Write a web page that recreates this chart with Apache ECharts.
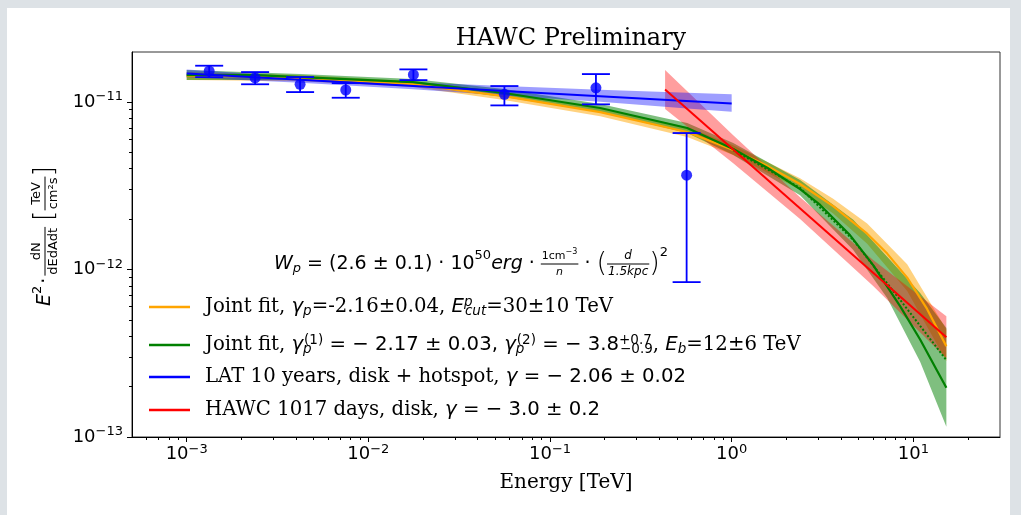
<!DOCTYPE html>
<html><head><meta charset="utf-8">
<script src="https://cdn.jsdelivr.net/npm/echarts@6/dist/echarts.min.js"></script>
<style>html,body{margin:0;padding:0;background:#fff}#c{width:1021px;height:515px}</style>
</head><body><div id="c"></div>
<script>
// ---------- data ----------
const xMin = 5e-4, xMax = 30, yMin = 1e-13, yMax = 1.99e-11;
const xMajor = [1e-3, 1e-2, 1e-1, 1, 10];
const yMajor = [1e-13, 1e-12, 1e-11];

// Fermi-LAT points
const latE  = [1.33e-3, 2.38e-3, 4.21e-3, 7.51e-3, 1.77e-2, 5.61e-2, 0.179, 0.565];
const latF  = [1.531e-11, 1.396e-11, 1.277e-11, 1.180e-11, 1.456e-11, 1.112e-11, 1.217e-11, 3.66e-12];
const latHi = [1.648e-11, 1.510e-11, 1.410e-11, 1.297e-11, 1.567e-11, 1.246e-11, 1.469e-11, 6.53e-12];
const latLo = [1.409e-11, 1.277e-11, 1.147e-11, 1.061e-11, 1.352e-11, 9.55e-12, 9.69e-12, 8.41e-13];

// LAT power-law fit
const latFitE = [1e-3, 1.0];
const latFitF = [1.483e-11, 9.79e-12];
const latBandE  = [1e-3, 4.21e-3, 1.76e-2, 5.58e-2, 0.189, 0.569, 1.0];
const latBandHi = [1.567e-11, 1.418e-11, 1.312e-11, 1.247e-11, 1.183e-11, 1.137e-11, 1.112e-11];
const latBandLo = [1.403e-11, 1.306e-11, 1.191e-11, 1.096e-11, 1.003e-11, 9.16e-12, 8.75e-12];

// HAWC power-law fit
const hawcE = [0.43, 15.2];
const hawcF = [1.19e-11, 3.94e-13];
const hawcBandE  = [0.43, 1.02, 2.38, 6.01, 15.2];
const hawcBandHi = [1.556e-11, 6.33e-12, 2.70e-12, 1.14e-12, 5.26e-13];
const hawcBandLo = [9.10e-12, 4.31e-12, 2.00e-12, 7.98e-13, 2.95e-13];

// Joint fit, exponential cutoff (orange)
const ecplE = [1.0e-3, 2.38e-3, 4.21e-3, 7.45e-3, 1.76e-2, 5.58e-2, 0.189, 0.569, 1.02, 1.57, 2.38, 3.62, 5.57, 7.18, 9.25, 11.9, 15.2];
const ecplF = [1.429e-11, 1.429e-11, 1.390e-11, 1.352e-11, 1.280e-11, 1.086e-11, 8.71e-12, 6.62e-12, 5.17e-12, 4.16e-12, 3.24e-12, 2.39e-12, 1.637e-12, 1.245e-12, 8.95e-13, 5.82e-13, 3.48e-13];
const ecplBandE  = [1.0e-3, 4.21e-3, 1.76e-2, 5.58e-2, 0.189, 0.569, 1.02, 2.38, 3.62, 5.57, 9.25, 15.2];
const ecplBandHi = [1.510e-11, 1.449e-11, 1.333e-11, 1.147e-11, 9.21e-12, 7.10e-12, 5.53e-12, 3.51e-12, 2.65e-12, 1.88e-12, 1.076e-12, 4.39e-13];
const ecplBandLo = [1.352e-11, 1.333e-11, 1.230e-11, 1.028e-11, 8.24e-12, 6.18e-12, 4.83e-12, 2.99e-12, 2.16e-12, 1.426e-12, 7.45e-13, 2.83e-13];

// Joint fit, broken power law (green)
const bplE = [1.0e-3, 2.38e-3, 4.21e-3, 7.45e-3, 1.76e-2, 5.58e-2, 0.189, 0.569, 1.02, 1.57, 2.38, 3.07, 4.49, 6.01, 8.47, 10.9, 15.2];
const bplF = [1.449e-11, 1.449e-11, 1.409e-11, 1.371e-11, 1.315e-11, 1.132e-11, 9.21e-12, 7.00e-12, 5.24e-12, 4.05e-12, 3.02e-12, 2.43e-12, 1.60e-12, 1.062e-12, 6.03e-13, 3.82e-13, 1.97e-13];
const bplBandE  = [1.0e-3, 4.21e-3, 1.76e-2, 5.58e-2, 0.189, 0.569, 1.02, 2.38, 4.67, 7.18, 10.9, 15.2];
const bplBandHi = [1.553e-11, 1.469e-11, 1.371e-11, 1.197e-11, 9.73e-12, 7.50e-12, 5.69e-12, 3.42e-12, 1.98e-12, 1.19e-12, 7.24e-13, 4.48e-13];
const bplBandLo = [1.352e-11, 1.352e-11, 1.264e-11, 1.072e-11, 8.71e-12, 6.53e-12, 4.83e-12, 2.78e-12, 1.31e-12, 6.76e-13, 2.81e-13, 1.15e-13];
const bplDotE = [1.02, 2.38, 4.67, 8.47, 15.2];
const bplDotF = [5.17e-12, 3.07e-12, 1.50e-12, 6.58e-13, 2.88e-13];

// ---------- helpers ----------
function minorTicks(k0, k1, lo, hi) {
  const r = [];
  for (let k = k0; k <= k1; k++) for (let m = 2; m <= 9; m++) {
    const v = m * Math.pow(10, k);
    if (v > lo && v < hi) r.push(v);
  }
  return r;
}
const xMinor = minorTicks(-4, 1, xMin, xMax);
const yMinor = minorTicks(-14, -11, yMin, yMax);
const pow10 = v => { const e = Math.round(Math.log10(v)); return '{b|10}{s|' + (e < 0 ? '\u2212' + (-e) : e) + '}'; };
const tickRich = {
  b: { fontFamily: 'DejaVu Sans', fontSize: 18, color: '#000' },
  s: { fontFamily: 'DejaVu Sans', fontSize: 13, color: '#000', padding: [0, 0, 10, 0] }
};
const pairs = (E, F) => E.map((e, i) => [e, F[i]]);

function bandSeries(name, E, lo, hi, color) {
  return {
    type: 'custom', name, silent: true, clip: true, z: 2,
    data: E.map((e, i) => [e, lo[i], hi[i]]),
    encode: { x: 0, y: [1, 2] },
    renderItem(params, api) {
      if (params.dataIndex !== 0) return null;
      const pts = [];
      for (let i = 0; i < E.length; i++) pts.push(api.coord([E[i], hi[i]]));
      for (let i = E.length - 1; i >= 0; i--) pts.push(api.coord([E[i], lo[i]]));
      return { type: 'polygon', shape: { points: pts }, style: { fill: color } };
    }
  };
}
function lineSeries(name, E, F, color, width, type) {
  return {
    type: 'line', name, data: pairs(E, F), symbol: 'none', showSymbol: false, silent: true, z: 3,
    color, lineStyle: { color, width, type: type || 'solid' }
  };
}

// text measurement for composed math labels
const ctx = document.createElement('canvas').getContext('2d');
function tw(t, f) { ctx.font = f; return ctx.measureText(t).width; }
function compose(parts, x0, y0, out) {
  let x = x0;
  for (const p of parts) {
    if (p.frac) {
      const wn = compose(p.frac.num, 0, 0, []), wd = compose(p.frac.den, 0, 0, []);
      const w = Math.max(wn, wd) + 2;
      compose(p.frac.num, x + (w - wn) / 2, y0 + p.frac.ny, out);
      compose(p.frac.den, x + (w - wd) / 2, y0 + p.frac.dy, out);
      out.push({ type: 'line', shape: { x1: x, y1: y0 + p.frac.by, x2: x + w, y2: y0 + p.frac.by }, style: { stroke: '#000', lineWidth: 1 } });
      x += w;
    } else if (p.gap) {
      x += p.gap;
    } else {
      out.push({ type: 'text', x: x, y: y0 + (p.dy || 0), style: { text: p.t, font: p.f, fill: '#000', align: 'left', verticalAlign: 'middle' } });
      x += tw(p.t, p.f);
    }
  }
  return x - x0;
}
const SANS = '"DejaVu Sans"';
const f = (sz, it) => (it ? 'italic ' : '') + sz + 'px ' + SANS;

// formula W_p
const formulaParts = [
  { t: 'W', f: f(19, 1) }, { t: 'p', f: f(13, 1), dy: 5 },
  { t: ' = (2.6 \u00b1 0.1) \u00b7 10', f: f(19) }, { t: '50', f: f(13), dy: -8 },
  { t: 'erg', f: f(19, 1) }, { t: ' \u00b7 ', f: f(19) },
  { frac: { num: [{ t: '1cm', f: f(11) }, { t: '\u22123', f: f(8), dy: -4 }], den: [{ t: 'n', f: f(11, 1) }], ny: -8, dy: 8, by: 0 } },
  { t: ' \u00b7 ', f: f(19) }, { t: '(', f: '200 27px ' + SANS },
  { frac: { num: [{ t: 'd', f: f(12, 1) }], den: [{ t: '1.5kpc', f: f(12, 1) }], ny: -8, dy: 8, by: 0 } },
  { t: ')', f: '200 27px ' + SANS }, { t: '2', f: f(13), dy: -11 }
];
const formulaEls = [];
compose(formulaParts, 0, 0, formulaEls);

// y axis label
const ylabParts = [
  { t: 'E', f: f(19, 1) }, { t: '2', f: f(13), dy: -7 }, { gap: 2 }, { t: '\u00b7', f: f(19) }, { gap: 2 },
  { frac: { num: [{ t: 'dN', f: f(13) }], den: [{ t: 'dEdAdt', f: f(13) }], ny: -8, dy: 9, by: 0 } },
  { gap: 6 }, { t: '[', f: '200 27px ' + SANS },
  { frac: { num: [{ t: 'TeV', f: f(13) }], den: [{ t: 'cm\u00b2s', f: f(13) }], ny: -8, dy: 9, by: 0 } },
  { t: ']', f: '200 27px ' + SANS }
];
const ylabEls = [];
const ylabW = compose(ylabParts, 0, 0, ylabEls);

// legend rich text
const legRich = {
  g: { width: 10 },
  t: { fontFamily: 'DejaVu Serif', fontSize: 19.7, color: '#000' },
  m: { fontFamily: 'DejaVu Sans', fontStyle: 'italic', fontSize: 19.7, color: '#000' },
  n: { fontFamily: 'DejaVu Sans', fontSize: 19.7, color: '#000' },
  sbi: { fontFamily: 'DejaVu Sans', fontStyle: 'italic', fontSize: 13.5, color: '#000', padding: [8, 0, 0, 0] },
  sbn: { fontFamily: 'DejaVu Sans', fontSize: 13.5, color: '#000', padding: [8, 0, 0, 0] },
  sbi0: { fontFamily: 'DejaVu Sans', fontStyle: 'italic', fontSize: 13.5, color: '#000', padding: [8, 0, 0, 0], width: 1 },
  spi: { fontFamily: 'DejaVu Sans', fontStyle: 'italic', fontSize: 13.5, color: '#000', padding: [0, 0, 10, 0] },
  spi0: { fontFamily: 'DejaVu Sans', fontStyle: 'italic', fontSize: 13.5, color: '#000', padding: [0, 0, 10, 0], width: 1 },
  spn: { fontFamily: 'DejaVu Sans', fontSize: 13.5, color: '#000', padding: [0, 0, 10, 0] },
  spn0: { fontFamily: 'DejaVu Sans', fontSize: 13.5, color: '#000', padding: [0, 0, 10, 0], width: 1 }
};
const legendText = {
  ecpl: '{g| }{t|Joint fit, }{m|\u03b3}{sbi|p}{t|=-2.16\u00b10.04, }{m|E}{spi0|p}{sbi|cut}{t|=30\u00b110 TeV}',
  bpl: '{g| }{t|Joint fit, }{m|\u03b3}{sbi0|p}{spn|(1)}{n| = \u2212 2.17 \u00b1 0.03, }{m|\u03b3}{sbi0|p}{spn|(2)}{n| = \u2212 3.8}{spn0|+0.7}{sbn|\u22120.9}{t|, }{m|E}{sbi|b}{t|=12\u00b16 TeV}',
  lat: '{g| }{t|LAT 10 years, disk + hotspot, }{m|\u03b3}{n| = \u2212 2.06 \u00b1 0.02}',
  hawc: '{g| }{t|HAWC 1017 days, disk, }{m|\u03b3}{n| = \u2212 3.0 \u00b1 0.2}'
};
const legendTops = { ecpl: 295, bpl: 333, lat: 367, hawc: 400 };
const legends = Object.keys(legendText).map(k => ({
  data: [k], left: 149, top: legendTops[k], orient: 'vertical', padding: 0,
  icon: 'rect', itemWidth: 41, itemHeight: 2.5, selectedMode: false,
  formatter: () => legendText[k],
  textStyle: { rich: legRich }
}));

const gray = '#dde2e6';
const option = {
  animation: false,
  backgroundColor: '#ffffff',
  title: {
    text: 'HAWC Preliminary', left: 566, top: 22, textAlign: 'center',
    textStyle: { fontFamily: 'DejaVu Serif', fontSize: 24, fontWeight: 'normal', color: '#000' }
  },
  legend: legends,
  grid: { left: 132, right: 21, top: 52, bottom: 78, show: true, borderColor: '#333', borderWidth: 1, backgroundColor: 'transparent' },
  xAxis: [
    {
      type: 'log', logBase: 10, min: xMin, max: xMax, position: 'bottom',
      axisLine: { show: true, onZero: false, lineStyle: { color: '#000', width: 1 } },
      axisTick: { show: true, customValues: xMajor, length: 5, lineStyle: { color: '#000', width: 1 } },
      axisLabel: { customValues: xMajor, formatter: pow10, rich: tickRich, margin: 6 },
      splitLine: { show: false },
      name: 'Energy [TeV]', nameLocation: 'middle', nameGap: 36,
      nameTextStyle: { fontFamily: 'DejaVu Serif', fontSize: 20, color: '#000' }
    },
    {
      type: 'log', logBase: 10, min: xMin, max: xMax, position: 'bottom',
      axisLine: { show: false },
      axisTick: { show: true, customValues: xMinor, length: 3, lineStyle: { color: '#000', width: 1 } },
      axisLabel: { show: false }, splitLine: { show: false }
    }
  ],
  yAxis: [
    {
      type: 'log', logBase: 10, min: yMin, max: yMax, position: 'left',
      axisLine: { show: true, onZero: false, lineStyle: { color: '#000', width: 1 } },
      axisTick: { show: true, customValues: yMajor, length: 5, lineStyle: { color: '#000', width: 1 } },
      axisLabel: { customValues: yMajor, formatter: pow10, rich: tickRich, margin: 9 },
      splitLine: { show: false }
    },
    {
      type: 'log', logBase: 10, min: yMin, max: yMax, position: 'left',
      axisLine: { show: false },
      axisTick: { show: true, customValues: yMinor, length: 3, lineStyle: { color: '#000', width: 1 } },
      axisLabel: { show: false }, splitLine: { show: false }
    }
  ],
  graphic: [
    { type: 'rect', left: 0, top: 0, shape: { width: 1021, height: 8 }, style: { fill: gray }, z: -10 },
    { type: 'rect', left: 0, top: 0, shape: { width: 7, height: 515 }, style: { fill: gray }, z: -10 },
    { type: 'rect', right: 0, top: 0, shape: { width: 11, height: 515 }, style: { fill: gray }, z: -10 },
    { type: 'group', x: 274, y: 264, children: formulaEls },
    { type: 'group', x: 45, y: 236 + ylabW / 2, rotation: Math.PI / 2, children: ylabEls }
  ],
  series: [
    bandSeries('ecplBand', ecplBandE, ecplBandLo, ecplBandHi, 'rgba(255,165,0,0.5)'),
    bandSeries('bplBand', bplBandE, bplBandLo, bplBandHi, 'rgba(0,128,0,0.5)'),
    bandSeries('hawcBand', hawcBandE, hawcBandLo, hawcBandHi, 'rgba(255,0,0,0.38)'),
    bandSeries('latBand', latBandE, latBandLo, latBandHi, 'rgba(0,0,255,0.38)'),
    lineSeries('ecpl', ecplE, ecplF, '#ffa500', 2.2),
    lineSeries('bplDot', bplDotE, bplDotF, '#008000', 2, 'dotted'),
    lineSeries('bpl', bplE, bplF, '#008000', 2.2),
    lineSeries('lat', latFitE, latFitF, '#0000ff', 2),
    lineSeries('hawc', hawcE, hawcF, '#ff0000', 2),
    {
      type: 'custom', name: 'latErr', silent: true, z: 4,
      data: latE.map((e, i) => [e, latF[i], latLo[i], latHi[i]]),
      encode: { x: 0, y: [2, 3] },
      renderItem(params, api) {
        const x = api.value(0);
        const pLo = api.coord([x, api.value(2)]), pHi = api.coord([x, api.value(3)]);
        const cw = 14, st = { stroke: '#0000ff', lineWidth: 1.8 };
        return {
          type: 'group', children: [
            { type: 'line', shape: { x1: pLo[0], y1: pLo[1], x2: pHi[0], y2: pHi[1] }, style: st },
            { type: 'line', shape: { x1: pLo[0] - cw, y1: pLo[1], x2: pLo[0] + cw, y2: pLo[1] }, style: st },
            { type: 'line', shape: { x1: pHi[0] - cw, y1: pHi[1], x2: pHi[0] + cw, y2: pHi[1] }, style: st }
          ]
        };
      }
    },
    {
      type: 'scatter', name: 'latPts', data: pairs(latE, latF), symbol: 'circle', symbolSize: 11,
      itemStyle: { color: '#0000ff' }, silent: true, z: 5
    }
  ]
};
const chart = echarts.init(document.getElementById('c'), null, { renderer: 'canvas' });
chart.setOption(option);
</script>
</body></html>
